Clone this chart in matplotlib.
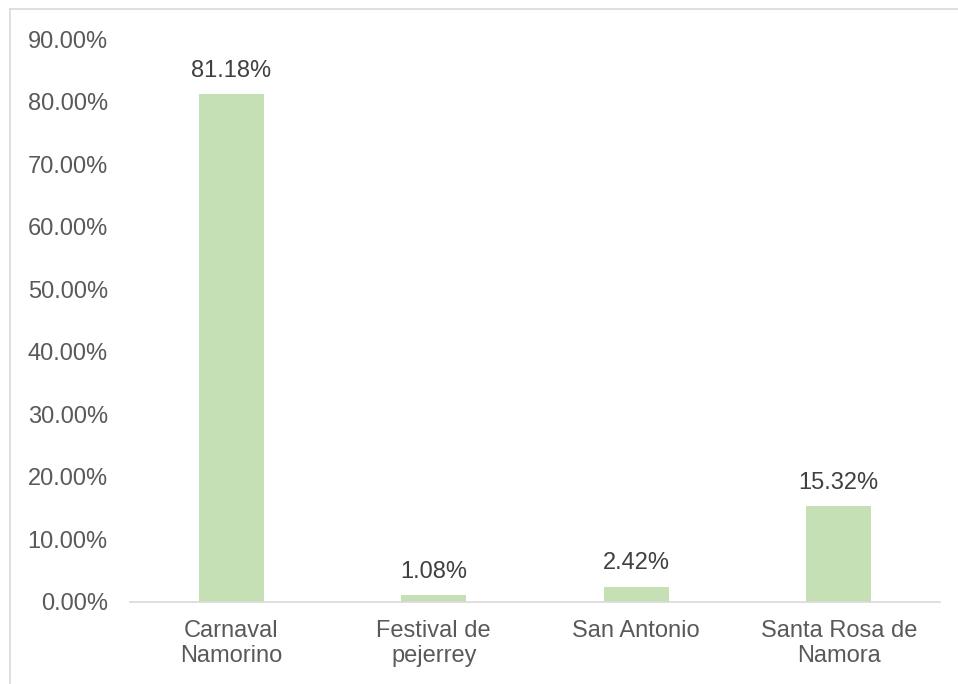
import matplotlib
matplotlib.use("Agg")
import matplotlib.pyplot as plt
from matplotlib.lines import Line2D
from matplotlib.ticker import FuncFormatter

categories = ["Carnaval\nNamorino", "Festival de\npejerrey", "San Antonio", "Santa Rosa de\nNamora"]
values = [81.18, 1.08, 2.42, 15.32]
y_ticks = [0, 10, 20, 30, 40, 50, 60, 70, 80, 90]

plt.rcParams['font.family'] = ['Liberation Sans', 'DejaVu Sans']
fs = 17

fig = plt.figure(figsize=(9.58, 6.84), dpi=100)
ax = fig.add_axes([130/958, 82/684, 810/958, 563/684])

x = list(range(len(categories)))
ax.bar(x, values, width=0.32, color="#C5E0B4")
ax.set_xlim(-0.5, len(categories) - 0.5)
ax.set_ylim(0, 90)
ax.set_yticks(y_ticks)
ax.yaxis.set_major_formatter(FuncFormatter(lambda v, p: f"{v:.2f}%"))
ax.set_xticks(x)
ax.set_xticklabels(categories, linespacing=1.18)

for s in ["top", "right", "left"]:
    ax.spines[s].set_visible(False)
ax.spines["bottom"].set_color("#D9D9D9")
ax.spines["bottom"].set_linewidth(1.2)
ax.tick_params(axis="both", length=0, labelsize=fs, colors="#595959")
ax.tick_params(axis="y", pad=16)
ax.tick_params(axis="x", pad=13)

for xi, v in zip(x, values):
    ax.annotate(f"{v:.2f}%", (xi, v), xytext=(0, 9), textcoords="offset points",
                ha="center", va="bottom", fontsize=fs, color="#404040")

fig.add_artist(Line2D([9.5/958, 9.5/958], [0, 1 - 8.5/684], transform=fig.transFigure, color="#D9D9D9", lw=1.2))
fig.add_artist(Line2D([9.5/958, 1], [1 - 8.5/684, 1 - 8.5/684], transform=fig.transFigure, color="#D9D9D9", lw=1.2))

fig.savefig("out.png", dpi=100)
